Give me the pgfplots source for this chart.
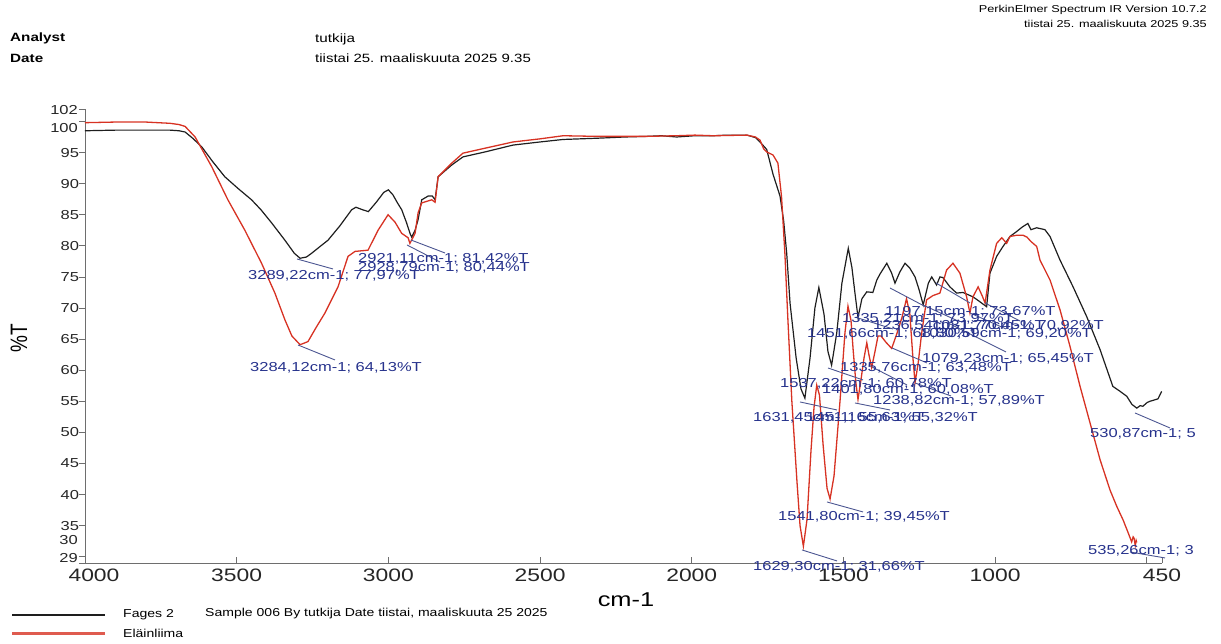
\documentclass[border=0pt]{standalone}
\usepackage{pgfplots}
\pgfplotsset{compat=1.18}
\usepackage{graphicx}
\usepackage{fontspec}
\setmainfont{Liberation Sans}
\definecolor{ann}{RGB}{38,50,140}
\definecolor{annl}{RGB}{75,85,145}
\definecolor{blk}{RGB}{30,30,30}
\definecolor{rd}{RGB}{215,50,35}
\definecolor{axgray}{RGB}{110,110,110}
\newcommand\st[1]{\scalebox{1.27}[1]{#1}}
\newcommand\PX[1]{(4000-((#1)-85)/0.30338)}
\newcommand\PY[1]{(102-((#1)-109)/6.22)}
\newcommand\lab[3]{\node[anchor=west,inner sep=0pt,text=ann,font=\fontsize{13}{15}\selectfont] at (axis cs:{\PX{#1}},{\PY{#2}}) {\st{#3}};}
\newcommand\ldr[4]{\draw[annl,line width=0.9pt] (axis cs:{\PX{#1}},{\PY{#2}}) -- (axis cs:{\PX{#3}},{\PY{#4}});}

\pgfplotstableread{
wn val
4000 98.5
3900 98.6
3800 98.6
3720 98.6
3690 98.5
3670 98.3
3645 97.3
3615 95.9
3580 93.6
3539 91.1
3495 89.2
3451 87.4
3420 85.8
3385 83.7
3341 80.9
3310 78.8
3291 78.0
3270 78.2
3253 78.8
3225 79.9
3199 80.9
3160 83.2
3121 85.8
3107 86.2
3085 85.8
3066 85.5
3040 87.0
3015 88.6
3000 89.0
2985 88.2
2970 86.9
2956 85.8
2940 83.7
2928 81.9
2923 81.4
2912 82.5
2902 84.2
2890 87.4
2869 88.0
2855 88.0
2846 87.4
2836 91.1
2791 93.0
2754 94.3
2681 95.1
2589 96.2
2500 96.7
2424 97.1
2312 97.3
2220 97.5
2147 97.6
2100 97.7
2050 97.5
1990 97.7
1930 97.7
1880 97.8
1818 97.8
1790 97.4
1775 96.7
1753 95.5
1732 91.5
1709 88.0
1697 84.0
1687 78.8
1676 70.8
1656 62.0
1640 57.0
1627 55.5
1610 62.0
1594 70.0
1581 73.3
1564 69.0
1551 63.0
1539 60.8
1522 66.0
1505 74.0
1484 79.6
1472 76.5
1462 72.4
1452 68.5
1439 71.5
1423 72.6
1403 72.5
1390 74.5
1379 75.5
1357 77.2
1341 75.6
1330 74.0
1314 75.8
1297 77.2
1281 76.4
1264 75.0
1251 73.0
1237 70.5
1220 74.0
1209 75.0
1193 73.7
1182 75.0
1172 74.9
1149 73.4
1127 72.4
1106 72.5
1073 71.8
1050 71.0
1028 70.2
1017 75.6
995 78.3
974 79.9
951 81.5
929 82.3
911 83.0
892 83.6
882 82.6
863 82.9
836 82.6
819 81.5
786 77.7
743 73.4
698 68.6
654 63.3
612 57.4
588 56.6
566 55.8
549 54.5
533 53.9
522 54.3
513 54.2
499 54.8
490 55.0
476 55.2
463 55.4
451 56.6
}\fages

\pgfplotstableread{
wn val
4000 99.8
3900 99.9
3800 99.9
3720 99.7
3690 99.5
3670 99.2
3637 97.5
3582 92.7
3529 87.4
3473 82.5
3418 77.2
3374 72.4
3341 68.1
3318 65.5
3291 64.1
3265 64.6
3239 66.8
3209 69.2
3166 73.4
3133 78.3
3110 79.1
3067 79.3
3034 82.5
3001 85.0
2978 83.8
2956 82.0
2935 81.3
2929 80.4
2912 82.0
2902 85.3
2890 86.9
2857 87.4
2846 87.0
2836 91.1
2791 93.3
2754 94.9
2681 95.7
2589 96.7
2500 97.2
2424 97.7
2312 97.6
2220 97.6
2147 97.6
2050 97.7
1990 97.8
1930 97.7
1818 97.8
1790 97.5
1775 97.0
1763 95.6
1753 95.1
1732 94.6
1716 93.3
1704 87.9
1693 78.8
1683 68.1
1670 55.0
1653 42.0
1643 35.0
1632 31.7
1620 36.0
1607 47.0
1597 54.0
1588 57.6
1579 56.0
1567 48.0
1554 41.0
1544 39.3
1531 43.0
1511 55.2
1495 66.0
1485 70.3
1475 68.0
1468 63.3
1459 58.0
1452 55.3
1442 58.5
1432 62.0
1423 64.4
1416 62.5
1407 60.4
1396 63.0
1386 65.5
1376 65.5
1360 64.5
1341 63.5
1323 66.0
1307 68.5
1292 71.5
1281 69.0
1271 62.0
1264 58.0
1254 61.0
1242 66.0
1226 71.3
1205 72.0
1182 72.4
1160 76.1
1139 77.2
1116 75.6
1094 71.8
1083 69.2
1073 71.8
1056 73.4
1043 72.0
1033 70.8
1017 76.1
995 80.4
978 81.3
962 80.4
951 81.5
929 81.7
908 81.7
895 81.4
882 80.7
863 79.9
852 77.7
819 74.5
786 69.7
753 63.8
720 57.4
687 51.5
654 45.6
621 40.7
599 38.1
578 35.9
561 33.8
550 32.4
545 33.2
542 33.0
538 31.8
535 32.6
533 32.3
}\elain

\begin{document}
\begin{tikzpicture}
\path[use as bounding box] (0,0) rectangle (1221pt,643pt);
\begin{axis}[
  at={(85pt,80pt)}, anchor=south west, scale only axis,
  width=1077pt, height=454pt,
  x dir=reverse, xmin=450, xmax=4000, ymin=29, ymax=102,
  axis x line*=bottom, axis y line*=left,
  axis line style={-, draw=axgray, line width=0.8pt},
  clip=false,
  xtick={4000,3500,3000,2500,2000,1500,1000,500,450},
  xticklabels={\hspace*{18pt}\st{4000},\st{3500},\st{3000},\st{2500},\st{2000},\st{1500},\st{1000},,\st{450}},
  ytick={29,30,35,40,45,50,55,60,65,70,75,80,85,90,95,100,102},
  yticklabels={,,\st{35},\st{40},\st{45},\st{50},\st{55},\st{60},\st{65},\st{70},\st{75},\st{80},\st{85},\st{90},\st{95},,},
  major tick length=6pt,
  xtick style={draw=axgray, line width=0.8pt},
  ytick style={draw=axgray, line width=0.8pt, xshift=-6pt},
  x tick label style={font=\fontsize{18}{20}\selectfont, yshift=-2.5pt, text=black!85},
  y tick label style={font=\fontsize{13}{15}\selectfont, xshift=-2.5pt, text=black!85},
]
\addplot[blk, line width=1.2pt] table[x=wn,y=val] {\fages};
\addplot[rd, line width=1.3pt] table[x=wn,y=val] {\elain};

\ldr{297}{259}{333}{269}
\ldr{298}{345}{335}{360}
\ldr{411}{240}{445}{253}
\ldr{407}{245}{440}{262}
\ldr{936}{283}{970}{303}
\ldr{890}{288}{926}{307}
\ldr{923}{305}{958}{321}
\ldr{985}{303}{1020}{321}
\ldr{858}{318}{893}{329}
\ldr{970}{313}{1006}{329}
\ldr{950}{324}{1006}{352}
\ldr{892}{348}{927}{363}
\ldr{828}{368}{863}{380}
\ldr{872}{367}{907}{385}
\ldr{915}{383}{951}{396}
\ldr{800}{402}{837}{410}
\ldr{855}{403}{890}{410}
\ldr{1135}{413}{1170}{428}
\ldr{827}{502}{863}{512}
\ldr{802}{550}{837}{561}
\ldr{1130}{552}{1165}{558}

\lab{248}{276}{3289,22cm-1; 77,97\%T}
\lab{250}{368}{3284,12cm-1; 64,13\%T}
\lab{358}{259}{2921,11cm-1; 81,42\%T}
\lab{358}{268}{2928,79cm-1; 80,44\%T}
\lab{885}{312}{1197,15cm-1; 73,67\%T}
\lab{842}{319}{1335,21cm-1; 73,97\%T}
\lab{873}{326}{1236,54cm-1; 70,45\%T}
\lab{932}{326}{1031,77cm-1; 70,92\%T}
\lab{807}{334}{1451,66cm-1; 68,80\%T}
\lab{920}{334}{1030,59cm-1; 69,20\%T}
\lab{922}{359}{1079,23cm-1; 65,45\%T}
\lab{840}{368}{1335,76cm-1; 63,48\%T}
\lab{780}{384}{1537,22cm-1; 60,78\%T}
\lab{822}{390}{1401,80cm-1; 60,08\%T}
\lab{873}{401}{1238,82cm-1; 57,89\%T}
\lab{753}{418}{1631,45cm-1; 55,63\%T}
\lab{806}{418}{1451,16cm-1; 55,32\%T}
\lab{1090}{434}{530,87cm-1; 5}
\lab{778}{517}{1541,80cm-1; 39,45\%T}
\lab{753}{567}{1629,30cm-1; 31,66\%T}
\lab{1088}{551}{535,26cm-1; 3}
\end{axis}

% special y tick labels (shifted as in the reference)
\begin{scope}[every node/.style={anchor=east, inner sep=0pt, font=\fontsize{13}{15}\selectfont, text=black!85}]
\node at (78pt,533pt) {\st{102}};
\node at (78pt,515pt) {\st{100}};
\node at (78pt,103pt) {\st{30}};
\node at (78pt,85pt) {\st{29}};
\end{scope}

% axis titles
\node[rotate=90, inner sep=0pt, font=\fontsize{19}{21}\selectfont] at (19pt,305pt) {\scalebox{1}[1.25]{\%T}};
\node[inner sep=0pt, font=\fontsize{20}{22}\selectfont] at (626pt,43pt) {\st{cm-1}};

% header
\begin{scope}[every node/.style={anchor=west, inner sep=0pt, font=\fontsize{12}{14}\selectfont}]
\node at (10pt,605pt) {\st{\bfseries Analyst}};
\node at (10pt,585pt) {\st{\bfseries Date}};
\node at (315pt,604pt) {\st{tutkija}};
\node at (315pt,585pt) {\scalebox{1.25}[1]{tiistai 25. maaliskuuta 2025 9.35}};
\end{scope}
\begin{scope}[every node/.style={anchor=east, inner sep=0pt, font=\fontsize{10}{12}\selectfont}]
\node at (1207pt,633pt) {\st{PerkinElmer Spectrum IR Version 10.7.2}};
\node at (1207pt,619pt) {\st{tiistai 25. maaliskuuta 2025 9.35}};
\end{scope}

% legend
\draw[blk, line width=1.8pt] (12pt,28pt) -- (105pt,28pt);
\draw[rd!80, line width=3pt] (12pt,10pt) -- (105pt,10pt);
\begin{scope}[every node/.style={anchor=west, inner sep=0pt, font=\fontsize{11.5}{13.5}\selectfont}]
\node at (123pt,28pt) {\scalebox{1.22}[1]{Fages 2}};
\node at (205pt,29pt) {\scalebox{1.22}[1]{Sample 006 By tutkija Date tiistai, maaliskuuta 25 2025}};
\node at (123pt,10pt) {\scalebox{1.22}[1]{Eläinliima}};
\end{scope}
\end{tikzpicture}
\end{document}
